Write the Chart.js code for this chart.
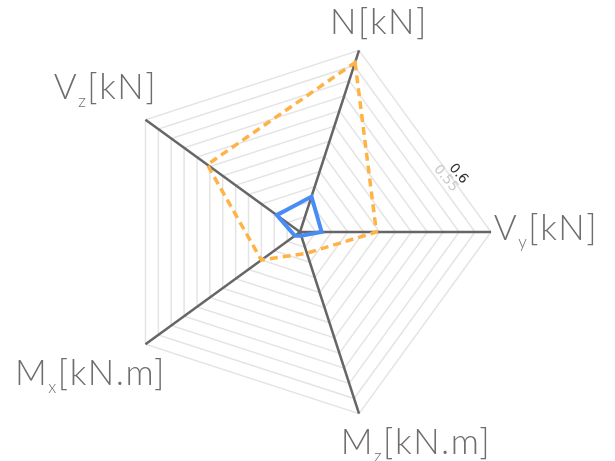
<!DOCTYPE html>
<html lang="en">
<head>
<meta charset="UTF-8">
<title>Section forces radar</title>
<script src="https://cdn.jsdelivr.net/npm/chart.js"></script>
<style>
  body { margin: 0; background: #fff; }
  canvas { display: block; }
</style>
</head>
<body>
<canvas id="radarChart" width="615" height="461"></canvas>
<script>
// axes clockwise from N: [symbol, subscript, unit]
const axisNames = [
  ['N', '', '[kN]'],
  ['V', 'y', '[kN]'],
  ['M', 'z', '[kN.m]'],
  ['M', 'x', '[kN.m]'],
  ['V', 'z', '[kN]']
];
const labels = axisNames.map(p => p.join(''));
const envelopeValues = [0.56, 0.24, 0.07, 0.15, 0.36];
const actualValues = [0.117, 0.068, 0.012, 0.02, 0.09];
const tickLabels = ['0.6', '0.55'];
const tickColors = ['#333333', '#c8c8c8'];

// where each axis title sits, relative to the tip of its axis line
const labelPlacement = [
  { dx: 20, dy: -16 },
  { dx: 55, dy: 8 },
  { dx: 57, dy: 40 },
  { dx: -55, dy: 41 },
  { dx: -40, dy: -21 }
];

const mainFont = '300 35px Lato, "DejaVu Sans", sans-serif';
const subFont = '300 17px Lato, "DejaVu Sans", sans-serif';

const axisTitles = {
  id: 'axisTitles',
  afterDraw(chart) {
    const scale = chart.scales.r;
    const ctx = chart.ctx;
    ctx.save();
    ctx.fillStyle = '#6e6e6e';
    ctx.textBaseline = 'alphabetic';
    ctx.textAlign = 'left';
    ctx.letterSpacing = '1.5px';
    axisNames.forEach(([base, sub, rest], i) => {
      const tip = scale.getPointPosition(i, scale.drawingArea);
      const place = labelPlacement[i];
      ctx.font = mainFont;
      const wBase = ctx.measureText(base).width;
      const wRest = ctx.measureText(rest).width;
      ctx.font = subFont;
      const wSub = sub ? ctx.measureText(sub).width : 0;
      let x = tip.x + place.dx - (wBase + wSub + wRest) / 2;
      const y = tip.y + place.dy;
      ctx.font = mainFont;
      ctx.fillText(base, x, y);
      x += wBase;
      if (sub) {
        ctx.font = subFont;
        ctx.fillText(sub, x, y + 8);
        x += wSub;
      }
      ctx.font = mainFont;
      ctx.fillText(rest, x, y);
    });
    ctx.restore();
  }
};

// tick values written just outside their ring, between N and Vy
const ringTicks = {
  id: 'ringTicks',
  afterDraw(chart) {
    const scale = chart.scales.r;
    const ctx = chart.ctx;
    const a0 = scale.getIndexAngle(0);
    const a1 = scale.getIndexAngle(1);
    const mid = (a0 + a1) / 2;
    const angle = a0 + (a1 - a0) * 0.72;
    ctx.save();
    ctx.font = '13.5px "DejaVu Sans", sans-serif';
    ctx.textAlign = 'center';
    ctx.textBaseline = 'middle';
    tickLabels.forEach((t, k) => {
      const ring = scale.getDistanceFromCenterForValue(parseFloat(t));
      const edge = ring * Math.cos((a1 - a0) / 2) / Math.cos(angle - mid);
      const d = edge + 8;
      const x = scale.xCenter + Math.sin(angle) * d;
      const y = scale.yCenter - Math.cos(angle) * d;
      ctx.save();
      ctx.translate(x, y);
      ctx.rotate(50 * Math.PI / 180);
      ctx.fillStyle = tickColors[k];
      ctx.fillText(t, 0, 0);
      ctx.restore();
    });
    ctx.restore();
  }
};

const ctx = document.getElementById('radarChart').getContext('2d');
new Chart(ctx, {
  type: 'radar',
  data: {
    labels: labels,
    datasets: [{
      label: 'Envelope',
      data: envelopeValues,
      borderColor: '#ffb347',
      borderWidth: 3.5,
      borderDash: [8, 5],
      backgroundColor: 'transparent',
      fill: false,
      pointRadius: 0,
      tension: 0
    }, {
      label: 'Current',
      data: actualValues,
      borderColor: '#4a8cf6',
      borderWidth: 4,
      backgroundColor: 'transparent',
      fill: false,
      pointRadius: 0,
      tension: 0
    }]
  },
  options: {
    responsive: false,
    animation: false,
    layout: { padding: { top: 41, bottom: 38, left: 0, right: 14 } },
    plugins: {
      legend: { display: false },
      tooltip: { enabled: false }
    },
    scales: {
      r: {
        min: 0,
        max: 0.6,
        startAngle: 18,
        ticks: { stepSize: 0.05, display: false },
        grid: { color: '#e4e4e4', lineWidth: 1.5 },
        angleLines: { color: '#666666', lineWidth: 2.5 },
        pointLabels: { display: false }
      }
    }
  },
  plugins: [axisTitles, ringTicks]
});
</script>
</body>
</html>
